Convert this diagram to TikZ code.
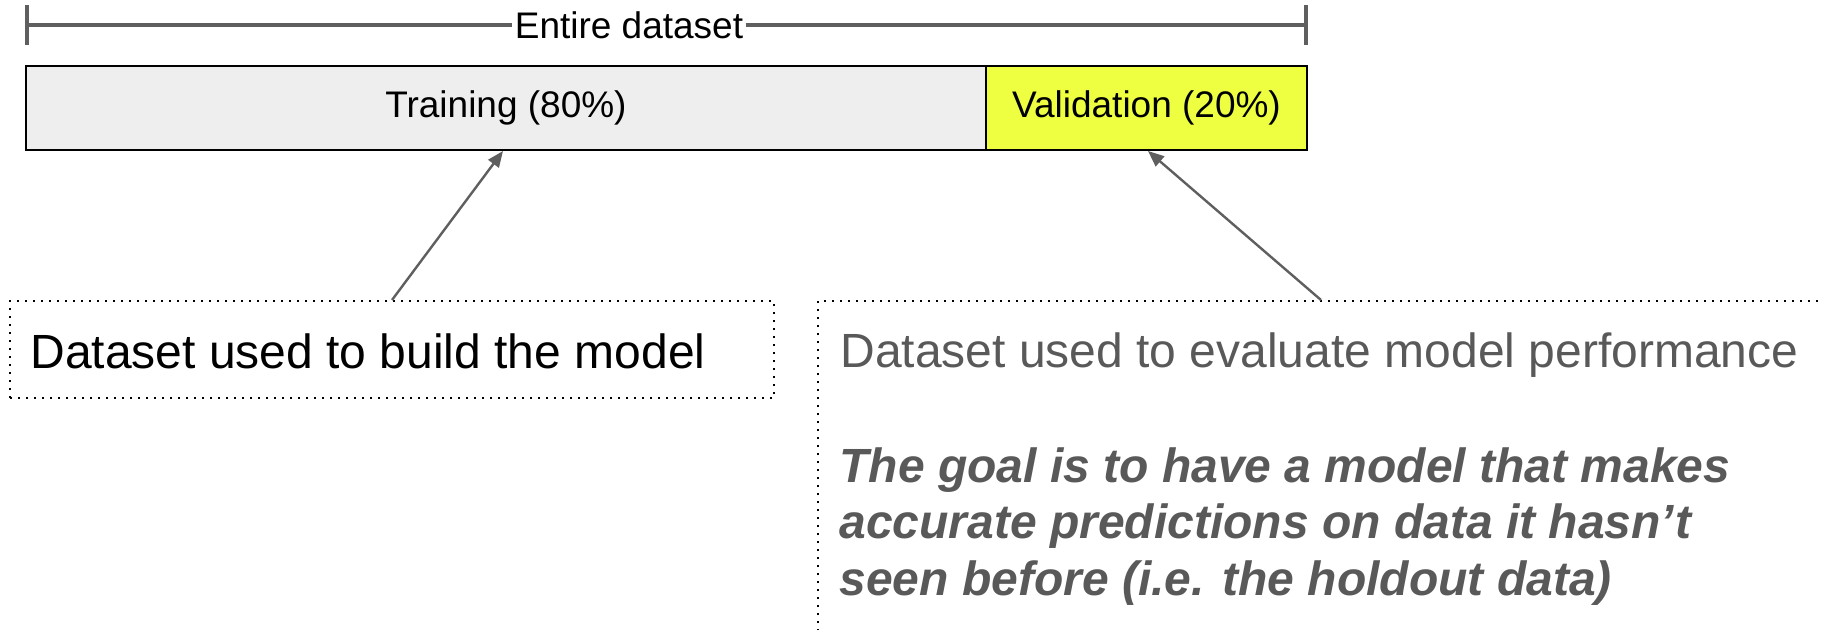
\documentclass[tikz,border=0pt]{standalone}
\usepackage{fontspec}
\setmainfont{Liberation Sans}
\usetikzlibrary{arrows.meta}
\definecolor{linegray}{HTML}{5F5F5F}
\definecolor{textgray}{HTML}{595959}
\definecolor{trainfill}{HTML}{EEEEEE}
\definecolor{valfill}{HTML}{EEFF41}

\begin{document}
\begin{tikzpicture}[x=0.5pt,y=-0.5pt,
  segment/.style={draw=black, line width=1pt, inner sep=0pt, anchor=north west,
    minimum height=42pt, font=\fontsize{18.5pt}{22pt}\selectfont},
  bracket/.style={draw=linegray, line width=1.8pt},
  spanlabel/.style={inner sep=1pt, font=\fontsize{18.5pt}{22pt}\selectfont},
  pointer/.style={draw=linegray, line width=1.2pt,
    -{Triangle[length=8pt,width=6.5pt]}, fill=linegray},
  notebox/.style={draw=black, line width=1pt, dash pattern=on 1pt off 3pt,
    inner sep=0pt, anchor=north west},
  notetext/.style={anchor=base west, inner sep=0pt,
    font=\fontsize{24pt}{28pt}\selectfont},
]
\useasboundingbox (0,0) rectangle (1822,629);
\clip (0,0) rectangle (1822,629);

% span of the whole dataset
\coordinate (bl) at (27,25);
\coordinate (br) at (1306,25);
\draw[bracket] (27,5) -- (27,45);
\draw[bracket] (1306,5) -- (1306,45);
\node[spanlabel] (whole) at (629,25) {Entire dataset};
\draw[bracket] (bl) -- (whole.west);
\draw[bracket] (whole.east) -- (br);

% the split bar
\node[segment, fill=trainfill, minimum width=480pt] (train) at (25,65) {Training (80\%)};
\node[segment, fill=valfill, minimum width=160.5pt] (val) at (985,65) {Validation (20\%)};

% notes
\node[notebox, minimum width=382pt, minimum height=48.5pt] (note1) at (9,300) {};
\node[notebox, minimum width=560pt, minimum height=200pt] (note2) at (817,300) {};

\node[notetext] (t1) at (30,368) {Dataset used to build the model};
\node[notetext, text=textgray] (t2) at (840,367) {Dataset used to evaluate model performance};
\node[notetext, text=textgray, font=\fontsize{24pt}{28pt}\selectfont\bfseries\itshape] (t3) at (839,482) {The goal is to have a model that makes};
\node[notetext, text=textgray, font=\fontsize{24pt}{28pt}\selectfont\bfseries\itshape] (t4) at (839,538) {accurate predictions on data it hasn’t};
\node[notetext, text=textgray, font=\fontsize{24pt}{28pt}\selectfont\bfseries\itshape] (t5) at (839,595) {seen before (i.e. the holdout data)};

% pointers from the notes to the bar
\coordinate (s1) at (392,300);
\coordinate (e1) at (503,151);
\coordinate (s2) at (1321,300);
\coordinate (e2) at (1148,151);
\draw[pointer] (s1) -- (e1);
\draw[pointer] (s2) -- (e2);
\end{tikzpicture}
\end{document}
